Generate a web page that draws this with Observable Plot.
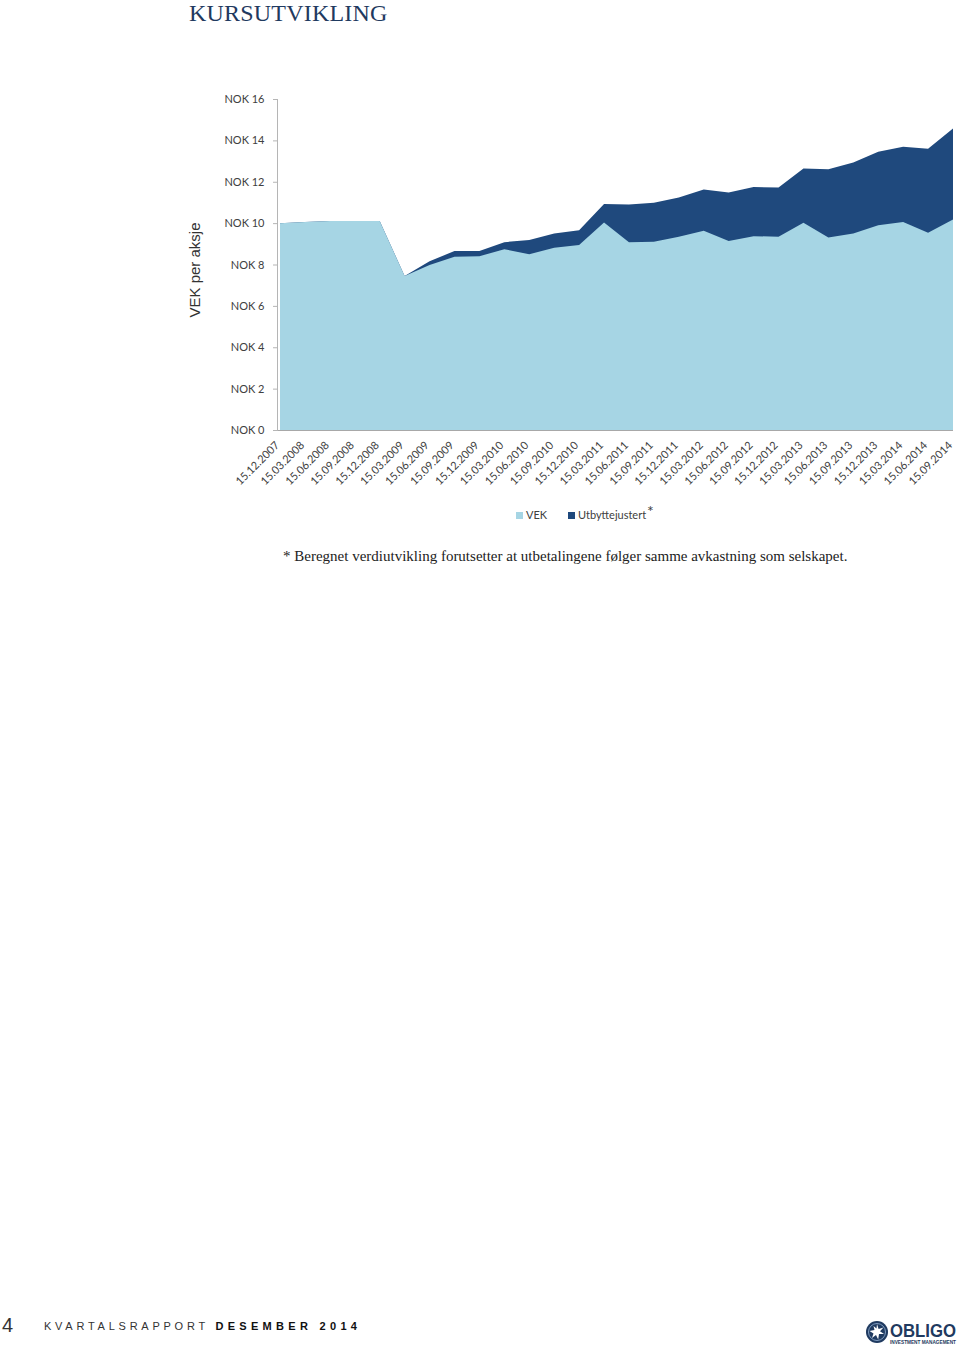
<!DOCTYPE html>
<html>
<head>
<meta charset="utf-8">
<script src="https://cdn.jsdelivr.net/npm/d3@7"></script>
<script src="https://cdn.jsdelivr.net/npm/@observablehq/plot@0.6"></script>
<style>
  html, body { margin: 0; padding: 0; background: #fff; }
  #page { position: relative; width: 960px; height: 1349px; overflow: hidden; }
  #chart { position: absolute; left: 0; top: 0; }
  .abs { position: absolute; white-space: nowrap; }
  #title { left: 189px; top: 0px; font-family: "Liberation Serif", serif; font-size: 24px; line-height: 27px; color: #1f3a60; letter-spacing: 0.2px; }
  .leg { font-family: Lato, sans-serif; font-size: 11px; color: #404040; }
  .sw { position: absolute; width: 7px; height: 7px; }
  #note { left: 283px; top: 548px; font-family: "Liberation Serif", serif; font-size: 15px; color: #222; }
  #pnum { left: 2px; top: 1314px; font-family: "Liberation Sans", sans-serif; font-size: 20px; color: #333; }
  #rep { left: 44px; top: 1320px; font-family: "Liberation Sans", sans-serif; font-size: 11px; letter-spacing: 3.75px; color: #333; }
  #rep b { letter-spacing: 4.3px; color: #111; }
</style>
</head>
<body>
<div id="page">
  <div id="chart"></div>
  <div id="title" class="abs">KURSUTVIKLING</div>
  <div id="legend"></div>
  <div id="note" class="abs">* Beregnet verdiutvikling forutsetter at utbetalingene følger samme avkastning som selskapet.</div>
  <div id="pnum" class="abs">4</div>
  <div id="rep" class="abs">KVARTALSRAPPORT <b>DESEMBER 2014</b></div>
  <div class="abs" style="left:862px; top:1317px;">
    <svg width="98" height="30" viewBox="0 0 98 30">
      <circle cx="15" cy="15" r="11" fill="#1f3a60"/>
      <circle cx="15" cy="15" r="8.5" fill="none" stroke="#7f9cc0" stroke-width="1"/>
      <polygon points="15,7 16.6,12 21.5,10.5 18,14.2 22,17 17,17 16.2,22.5 14,18 10,21 11.5,16.5 7.5,14 12.5,13 11.5,9 14.5,11.5" fill="#fff"/>
      <text x="28" y="20" font-family="Liberation Sans, sans-serif" font-weight="bold" font-size="18" fill="#1f3a60" textLength="66" lengthAdjust="spacingAndGlyphs">OBLIGO</text>
      <text x="28" y="26.5" font-family="Liberation Sans, sans-serif" font-weight="bold" font-size="4.6" fill="#1f3a60" textLength="66" lengthAdjust="spacingAndGlyphs">INVESTMENT MANAGEMENT</text>
    </svg>
  </div>
</div>
<script>
const dates = [
  "15.12.2007",
  "15.03.2008", "15.06.2008", "15.09.2008", "15.12.2008",
  "15.03.2009", "15.06.2009", "15.09.2009", "15.12.2009",
  "15.03.2010", "15.06.2010", "15.09.2010", "15.12.2010",
  "15.03.2011", "15.06.2011", "15.09.2011", "15.12.2011",
  "15.03.2012", "15.06.2012", "15.09.2012", "15.12.2012",
  "15.03.2013", "15.06.2013", "15.09.2013", "15.12.2013",
  "15.03.2014", "15.06.2014", "15.09.2014"
];
const vek = [10.0, 10.05, 10.1, 10.1, 10.1, 7.45, 7.97, 8.37, 8.4, 8.74, 8.5, 8.81, 8.94, 10.03,
  9.07, 9.1, 9.34, 9.63, 9.13, 9.37, 9.34, 10.02, 9.31, 9.5, 9.9, 10.05, 9.53, 10.18];
const utbyttejustert = [10.0, 10.05, 10.1, 10.1, 10.1, 7.45, 8.16, 8.65, 8.65, 9.08, 9.18, 9.5, 9.66, 10.92,
  10.9, 10.98, 11.24, 11.63, 11.48, 11.75, 11.72, 12.64, 12.61, 12.93, 13.45, 13.69, 13.6, 14.57];
const yTicks = [0, 2, 4, 6, 8, 10, 12, 14, 16];
const seriesNames = ["VEK", "Utbyttejustert"];
const colors = ["#a6d5e4", "#1f497d"];
const yLabel = "VEK per aksje";

const data = dates.map((d, i) => ({i, date: d, vek: vek[i], utb: utbyttejustert[i]}));

const chart = Plot.plot({
  width: 960,
  height: 500,
  marginTop: 99,
  marginBottom: 70,
  marginLeft: 277,
  marginRight: 7,
  style: {background: "none", fontFamily: "Lato, sans-serif", fontSize: "11px", color: "#404040"},
  x: {type: "linear", domain: [0, dates.length - 1], insetLeft: 3},
  y: {domain: [0, 16]},
  marks: [
    Plot.areaY(data, {x: "i", y: "utb", fill: colors[1]}),
    Plot.areaY(data, {x: "i", y: "vek", fill: colors[0]}),
    Plot.ruleY([0], {stroke: "#a8a8a8", strokeWidth: 1}),
    Plot.frame({anchor: "left", stroke: "#b5b5b5"}),
    Plot.axisY({ticks: yTicks, tickFormat: d => "NOK " + d, tickSize: 4, tickPadding: 9, stroke: "#b5b5b5", fill: "#404040", fontSize: 11, label: null}),
    Plot.axisX({ticks: d3.range(dates.length), tickFormat: i => dates[i], tickRotate: -45, tickSize: 0, tickPadding: 13, dx: -3, fill: "#404040", fontSize: 11, label: null}),
    Plot.text([yLabel], {frameAnchor: "left", textAnchor: "middle", dx: -82, dy: 5, rotate: -90, fontSize: 15, fontFamily: "Liberation Sans, sans-serif", fill: "#333"})
  ]
});
document.getElementById("chart").appendChild(chart);

const legend = document.getElementById("legend");
const legPos = [{sq: 516, tx: 526}, {sq: 568, tx: 578}];
seriesNames.forEach((name, i) => {
  const sq = document.createElement("div");
  sq.className = "sw";
  sq.style.left = legPos[i].sq + "px";
  sq.style.top = "512px";
  sq.style.background = colors[i];
  legend.appendChild(sq);
  const t = document.createElement("div");
  t.className = "abs leg";
  t.style.left = legPos[i].tx + "px";
  t.style.top = "508px";
  t.textContent = name;
  legend.appendChild(t);
});
const star = document.createElement("div");
star.className = "abs leg";
star.style.left = "647px";
star.style.top = "501px";
star.style.fontSize = "16px";
star.textContent = "*";
legend.appendChild(star);
</script>
</body>
</html>
